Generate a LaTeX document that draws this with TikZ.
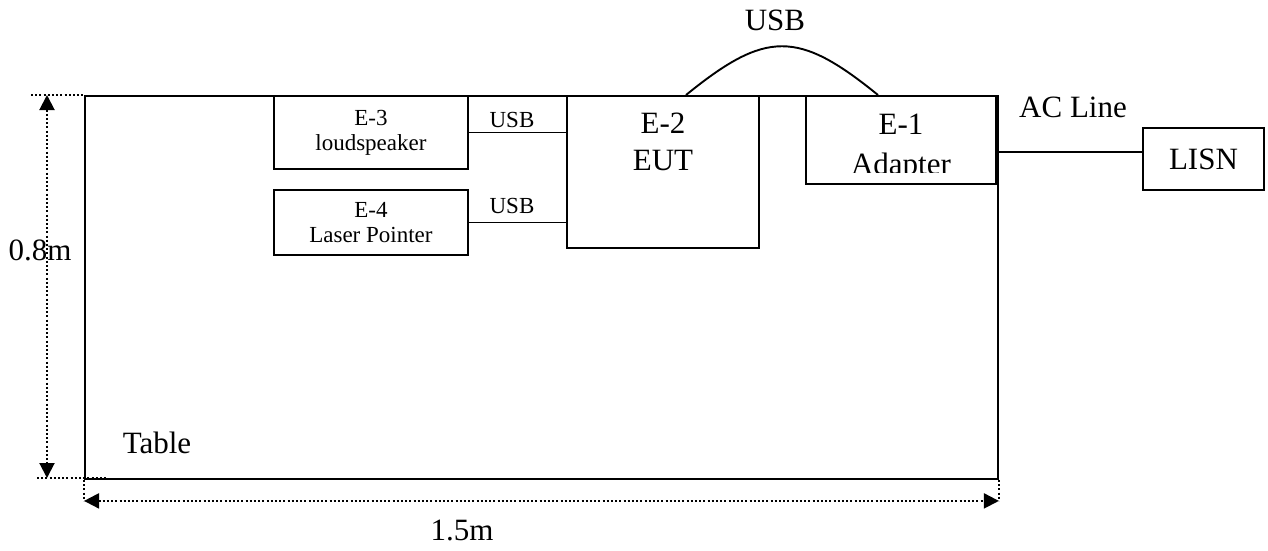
\documentclass[tikz,border=0pt]{standalone}
\usepackage{fontspec}
\setmainfont{Liberation Serif}
\usetikzlibrary{calc,arrows.meta,positioning}
\tikzset{
  ebox/.style={draw,line width=1.9pt,inner sep=0pt,anchor=north west},
  cable/.style={line width=1.9pt},
  dimline/.style={line width=2pt,dash pattern=on 2pt off 2.2pt},
  dimarrow/.style={dimline,{Triangle[length=15pt,width=15pt]}-{Triangle[length=15pt,width=15pt]}},
  bigtxt/.style={font=\fontsize{31}{37}\selectfont,inner sep=0pt,align=center},
  smalltxt/.style={font=\fontsize{23}{25}\selectfont,inner sep=0pt,align=center},
}
\begin{document}
\begin{tikzpicture}[x=1pt,y=-1pt]
  \useasboundingbox (0,0) rectangle (1268,550);
  \node[ebox,minimum width=913,minimum height=383] (table) at (84,95) {};
  \node[ebox,smalltxt,minimum width=194,minimum height=73] (e3) at (273,95) {E-3\\loudspeaker};
  \node[ebox,smalltxt,minimum width=194,minimum height=65] (e4) at (273,189) {E-4\\Laser Pointer};
  \node[ebox,minimum width=192,minimum height=152] (e2) at (566,95) {};
  \node[ebox,minimum width=190,minimum height=88] (e1) at (805,95) {};
  \node[ebox,bigtxt,minimum width=121,minimum height=62] (lisn) at (1142,127) {LISN};
  \node[bigtxt,anchor=north] (e2txt) at ([yshift=-18pt]e2.north) {E-2\\EUT};
  \begin{scope}
    \clip (805,95) rectangle (995,172);
    \node[bigtxt,anchor=north,font=\fontsize{31}{40}\selectfont] (e1txt)
      at ([yshift=-19pt]e1.north) {E-1\\Adapter};
  \end{scope}
  \coordinate (u1) at ($(e2.north west)+(120,0)$);
  \coordinate (u2) at ($(e1.north west)+(73,0)$);
  \coordinate (acpt) at (997,152);
  \draw[cable] (e3.east) -- (e3.east -| e2.west);
  \draw[cable] (e4.east) -- (e4.east -| e2.west);
  \draw[cable] (u1) .. controls (766,30) and (798,30) .. (u2);
  \draw[cable] (acpt) -- (acpt -| lisn.west);
  \node[smalltxt,anchor=base] (usb3) at (512,127) {USB};
  \node[smalltxt,anchor=base] (usb4) at (512,213) {USB};
  \node[bigtxt,anchor=base] (usbtop) at (775,30) {USB};
  \node[bigtxt,anchor=base] (acline) at (1073,117) {AC Line};
  \node[bigtxt,anchor=base] (tabletxt) at (157,453) {Table};
  \node[bigtxt,anchor=base] (height) at (40,260) {0.8m};
  \node[bigtxt,anchor=base] (width) at (462,540) {1.5m};
  \draw[dimline] (31,95) -- (table.north west);
  \draw[dimline] (37,478) -- (107,478);
  \draw[dimarrow] (47,95) -- (47,478);
  \draw[dimline] (table.south west) -- ++(0,21);
  \draw[dimline] (table.south east) -- ++(0,21);
  \draw[dimarrow] ($(table.south west)+(0,21)$) -- ($(table.south east)+(0,21)$);
\end{tikzpicture}
\end{document}
